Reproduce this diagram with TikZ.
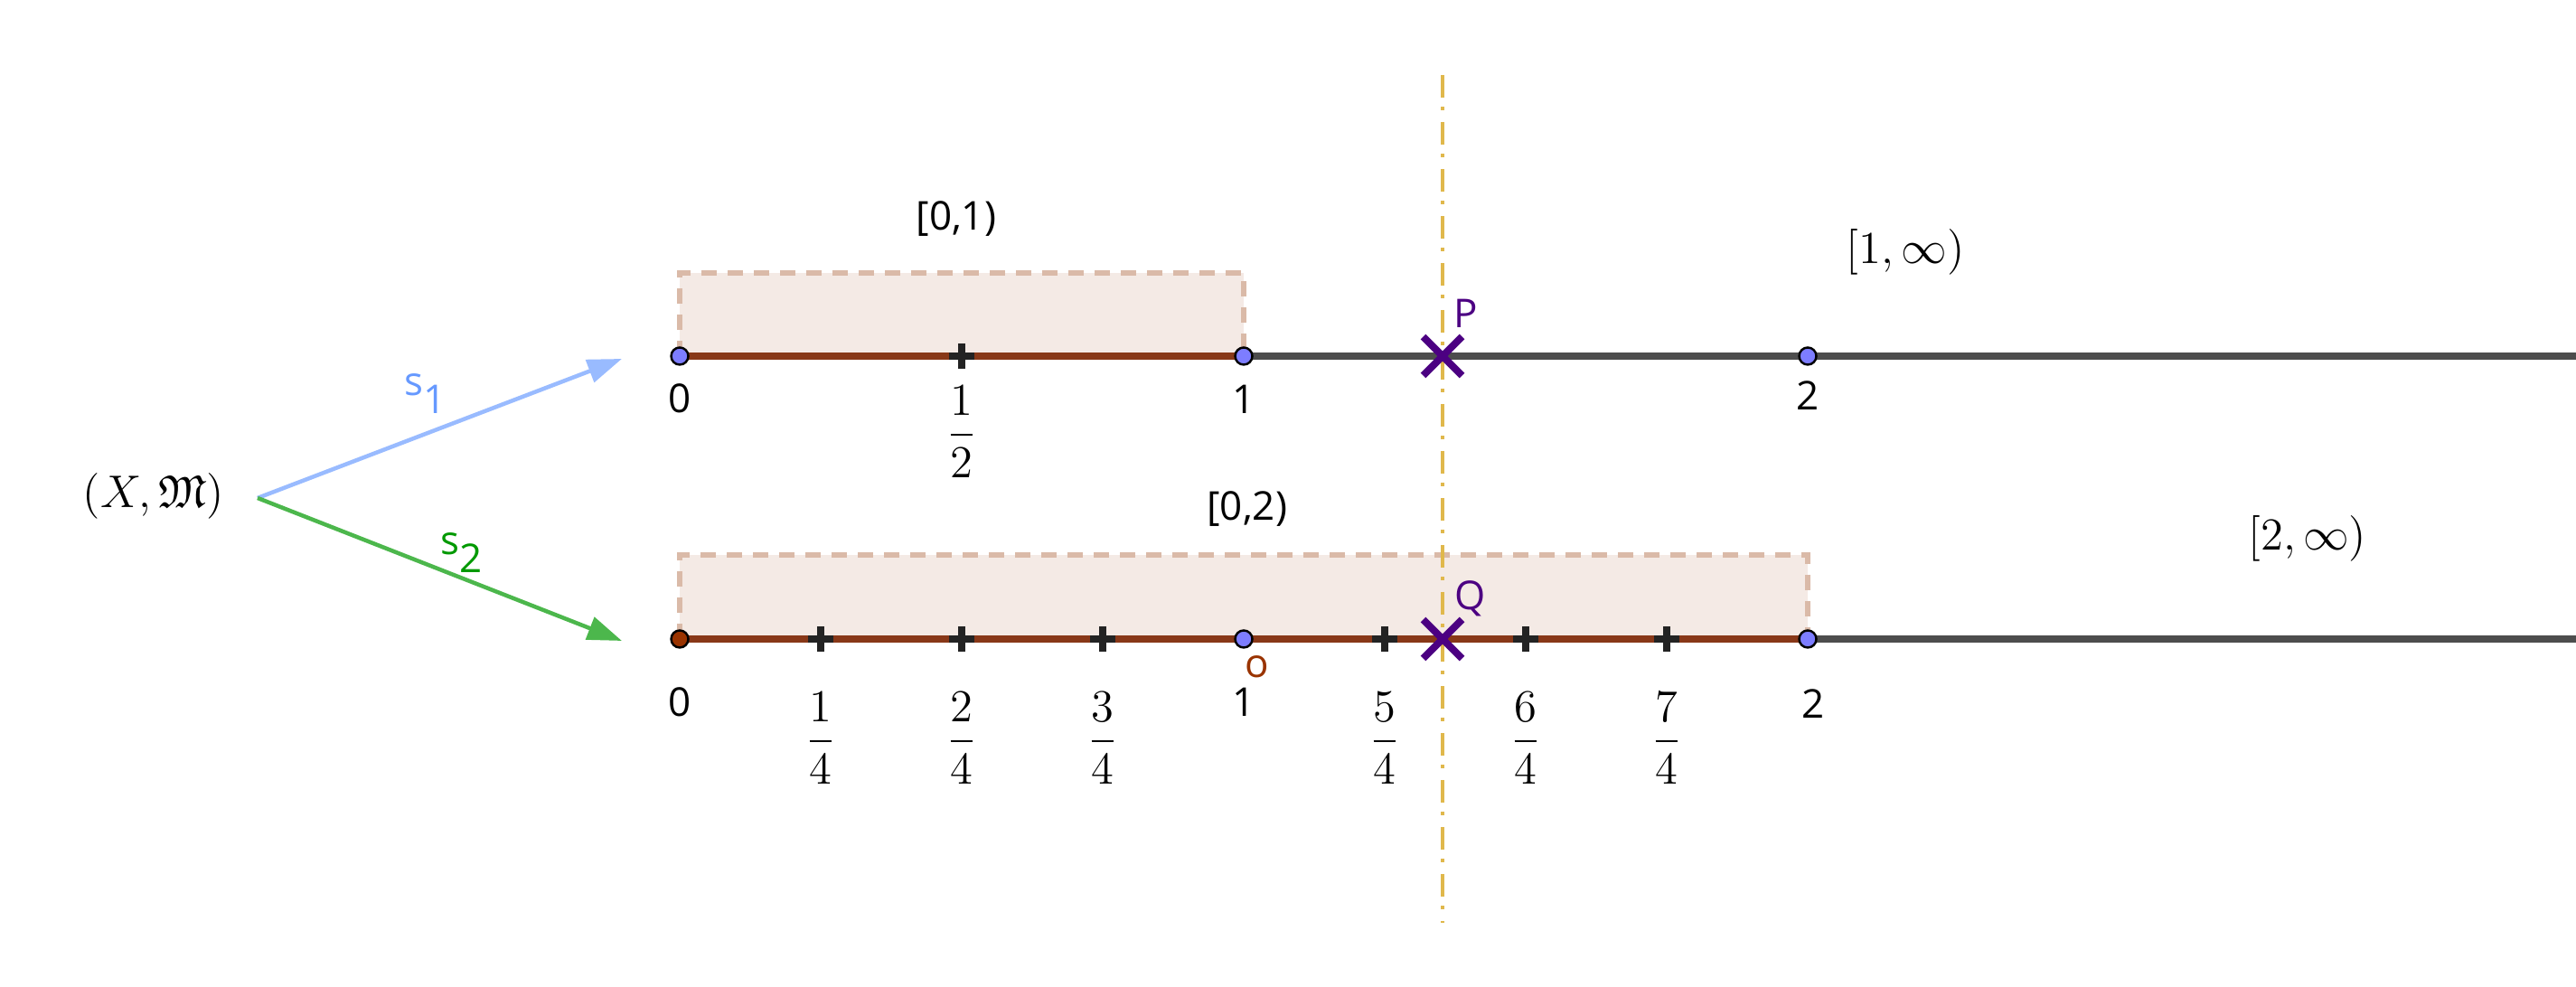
\documentclass[tikz,border=0pt]{standalone}
\usepackage{amsmath}
\usepackage{amssymb}
\usepackage{fontspec}
\setsansfont{Open Sans}
\usetikzlibrary{arrows.meta}
\pgfdeclarelayer{background}
\pgfsetlayers{background,main}
\definecolor{lineGray}{RGB}{77,77,77}
\definecolor{segBrown}{RGB}{136,56,24}
\definecolor{ptBlue}{RGB}{125,125,255}
\definecolor{ptBrown}{RGB}{153,51,0}
\definecolor{boxFill}{RGB}{244,234,229}
\definecolor{boxEdge}{RGB}{218,186,168}
\definecolor{cutGold}{RGB}{224,184,76}
\definecolor{markPurple}{RGB}{76,0,130}
\definecolor{sOneBlue}{RGB}{153,187,255}
\definecolor{sOneText}{RGB}{102,153,255}
\definecolor{sTwoGreen}{RGB}{76,183,76}
\definecolor{sTwoText}{RGB}{0,153,0}
\tikzset{
  mathlabel/.style = {inner sep=0pt, font=\fontsize{14.4}{17}\selectfont},
  sflabel/.style = {inner sep=0pt, font=\sffamily\fontsize{12.5}{15}\selectfont},
  maparrow/.style = {draw=#1, line width=0.045cm, -{Triangle[length=0.38cm, width=0.26cm]}},
  segline/.style = {draw=segBrown, line width=0.075cm},
  restline/.style = {draw=lineGray, line width=0.075cm},
  halfbox/.style = {fill=boxFill, draw=boxEdge, line width=0.06cm, dash pattern=on 0.17cm off 0.12cm},
  cutline/.style = {draw=cutGold, line width=0.045cm, dash pattern=on 0.25cm off 0.10cm on 0.04cm off 0.13cm},
  numdot/.style = {circle, draw=black, line width=0.7pt, fill=#1, inner sep=0pt, minimum size=0.19cm},
  numdot/.default = ptBlue,
  tickplus/.pic = {
    \draw[draw={rgb,255:red,35;green,35;blue,35}, line width=0.075cm]
      (-1.37mm,0mm) -- (1.37mm,0mm) (0mm,-1.37mm) -- (0mm,1.37mm);
  },
  crossmark/.pic = {
    \draw[draw=markPurple, line width=0.08cm]
      (-2.15mm,-2.15mm) -- (2.15mm,2.15mm) (-2.15mm,2.15mm) -- (2.15mm,-2.15mm);
  }
}

\begin{document}
\begin{tikzpicture}
  \useasboundingbox (0,0) rectangle (28.5,10.92);

  % the space and its two maps
  \node[mathlabel] (space) at (1.70,5.43) {$(X,\mathfrak{M})$};
  \coordinate (apex) at (2.85,5.41);
  \coordinate (s1tip) at (6.88,6.95);
  \coordinate (s2tip) at (6.88,3.83);
  \draw[maparrow=sOneBlue] (apex) -- (s1tip);
  \draw[maparrow=sTwoGreen] (apex) -- (s2tip);
  \node[sflabel, text=sOneText] (s1) at (4.71,6.56) {s\raisebox{-0.85ex}{1}};
  \node[sflabel, text=sTwoText] (s2) at (5.11,4.80) {s\raisebox{-0.85ex}{2}};

  % vertical cut through P and Q
  \coordinate (cuttop) at (15.96,10.09);
  \coordinate (cutbot) at (15.96,0.71);
  \draw[cutline] (cuttop) -- (cutbot);

  % first line, s_1
  \begin{scope}[shift={(7.52,6.98)}, x=6.24cm]
    \coordinate (t0) at (0,0);
    \coordinate (t1) at (1,0);
    \coordinate (t2) at (2,0);
    \coordinate (P) at (1.3526,0);
    \coordinate (tend) at (3.3622,0);
    \begin{pgfonlayer}{background}
      \draw[halfbox] (t0) rectangle (1,0.92);
    \end{pgfonlayer}
    \draw[restline] (t1) -- (tend);
    \draw[segline] (t0) -- (t1);
    \pic at (0.5,0) {tickplus};
    \node[numdot] (t0dot) at (t0) {};
    \node[numdot] (t1dot) at (t1) {};
    \node[numdot] (t2dot) at (t2) {};
    \pic at (P) {crossmark};

    \node[sflabel] (lzeroone) at (0.49,1.52) {[0,1)};
    \node[mathlabel] (loneinf) at (2.173,1.15) {$[1,\infty)$};
    \node[sflabel] (tl0) at (0,-0.47) {0};
    \node[mathlabel] (tlhalf) at (0.5,-0.84) {$\displaystyle\frac{1}{2}$};
    \node[sflabel] (tl1) at (1,-0.48) {1};
    \node[sflabel] (tl2) at (2,-0.44) {2};
    \node[sflabel, text=markPurple] (Plabel) at (1.394,0.47) {P};
  \end{scope}

  % second line, s_2
  \begin{scope}[shift={(7.52,3.85)}, x=6.24cm]
    \coordinate (b0) at (0,0);
    \coordinate (b1) at (1,0);
    \coordinate (b2) at (2,0);
    \coordinate (Q) at (1.3526,0);
    \coordinate (bend) at (3.3622,0);
    \begin{pgfonlayer}{background}
      \draw[halfbox] (b0) rectangle (2,0.93);
    \end{pgfonlayer}
    \draw[restline] (b2) -- (bend);
    \draw[segline] (b0) -- (b2);
    \foreach \k in {1,2,3,5,6,7}
      \pic at (\k/4,0) {tickplus};
    \node[numdot=ptBrown] (b0dot) at (b0) {};
    \node[numdot] (b1dot) at (b1) {};
    \node[numdot] (b2dot) at (b2) {};
    \pic at (Q) {crossmark};

    \node[sflabel] (lzerotwo) at (1.006,1.44) {[0,2)};
    \node[mathlabel] (ltwoinf) at (2.886,1.11) {$[2,\infty)$};
    \node[sflabel] (bl0) at (0,-0.70) {0};
    \foreach \k in {1,2,3,5,6,7}
      \node[mathlabel] (bf\k) at (\k/4,-1.10) {$\displaystyle\frac{\k}{4}$};
    \node[sflabel] (bl1) at (1,-0.70) {1};
    \node[sflabel] (bl2) at (2.01,-0.72) {2};
    \node[sflabel, text=ptBrown] (olabel) at (1.024,-0.31) {o};
    \node[sflabel, text=markPurple] (Qlabel) at (1.402,0.45) {Q};
  \end{scope}
\end{tikzpicture}
\end{document}
